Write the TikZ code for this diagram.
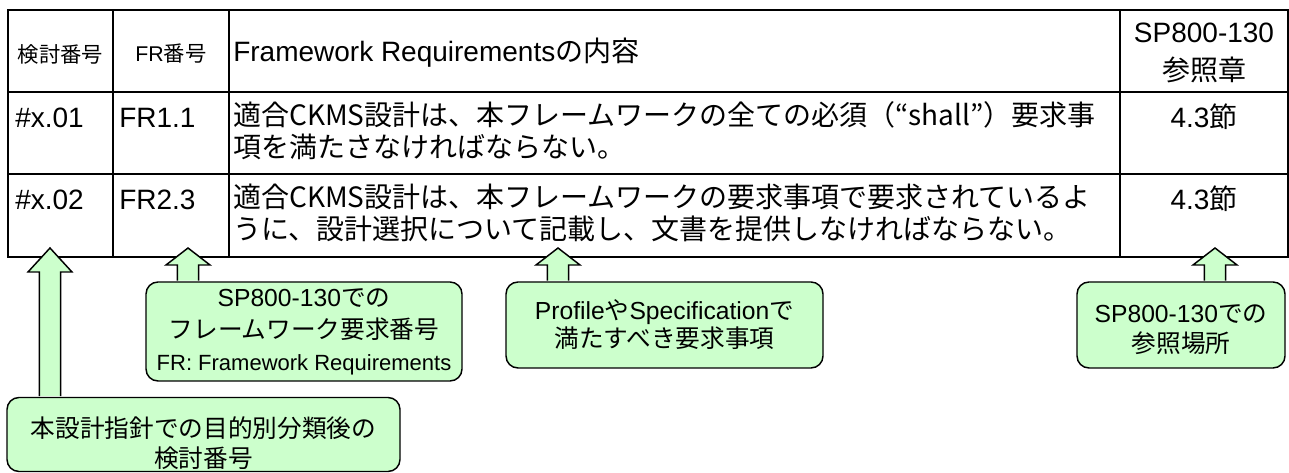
\documentclass[tikz,border=0pt]{standalone}
\usepackage{fontspec}
\setmainfont{Liberation Sans}
\newfontfamily\jp{Noto Sans CJK JP}
\usetikzlibrary{calc}
\definecolor{notegreen}{RGB}{204,255,204}
\tikzset{
  rule/.style={line width=1.5pt},
  cell/.style={inner sep=0pt, font=\fontsize{21}{24}\selectfont, anchor=base west},
  jcell/.style={cell, font=\jp\fontsize{21}{24}\selectfont, align=left},
  headsmall/.style={inner sep=0pt, font=\fontsize{16}{19}\selectfont},
  note/.style={draw, line width=1.1pt, fill=notegreen, rounded corners=9pt,
    align=center, inner sep=0pt, font=\fontsize{18.5}{22.5}\selectfont},
  blockarrow/.style={draw, line width=1.1pt, fill=notegreen, line join=miter}
}
% block arrow from the top of a note up to a tip
\newcommand\uparr[3]{%
  \filldraw[blockarrow] let \p1=(#2), \p2=(#1.north) in
    (\x1-8pt,\y2+0.5pt) -- (\x1-8pt,\y1-#3) -- (\x1-16.5pt,\y1-#3) -- (\x1,\y1)
    -- (\x1+16.5pt,\y1-#3) -- (\x1+8pt,\y1-#3) -- (\x1+8pt,\y2+0.5pt);}

\begin{document}
\begin{tikzpicture}[x=0.75pt,y=-0.75pt]
    \useasboundingbox (0,0) rectangle (1289,473);
    % Table frame
    \draw[rule] (8,10) rectangle (1288,257);
    \draw[rule] (8,92) -- (1288,92);
    \draw[rule] (8,174) -- (1288,174);
    \draw[rule] (113,10) -- (113,257);
    \draw[rule] (229,10) -- (229,257);
    \draw[rule] (1120,10) -- (1120,257);
    % Header
    \node[headsmall] (h1) at (60.5,54) {\jp 検討番号};
    \node[headsmall] (h2) at (171,54) {FR{\jp 番号}};
    \node[cell] (h3) at (233,62) {Framework Requirements{\jp の内容}};
    \node[cell, anchor=center, align=center, font=\fontsize{21}{28.5}\selectfont] (h4) at (1204,53)
        {SP800-130\\{\jp 参照章}};
    % Rows (base = last line)
    \node[cell] (r1a) at (15,128) {\#x.01};
    \node[cell] (r1b) at (119,128) {FR1.1};
    \node[jcell] (r1c) at (233,158) {適合CKMS設計は、本フレームワークの全ての必須（“shall”）要求事\\項を満たさなければならない。};
    \node[cell, anchor=base] (r1d) at (1204,128) {4.3{\jp 節}};
    \node[cell] (r2a) at (15,210) {\#x.02};
    \node[cell] (r2b) at (119,210) {FR2.3};
    \node[jcell] (r2c) at (233,240) {適合CKMS設計は、本フレームワークの要求事項で要求されているよ\\うに、設計選択について記載し、文書を提供しなければならない。};
    \node[cell, anchor=base] (r2d) at (1204,210) {4.3{\jp 節}};
    % Notes
    \node[note, minimum width=294.75pt, minimum height=55.5pt] (n1) at (203.5,434.5)
        {\rule{0pt}{28pt}{\jp 本設計指針での目的別分類後の}\\{\jp 検討番号}};
    \node[note, minimum width=237pt, minimum height=74.25pt, font=\fontsize{18.5}{24}\selectfont] (n2) at (304,331.5)
        {SP800-130{\jp での}\\{\jp フレームワーク要求番号}\\{\fontsize{16.5}{21}\selectfont FR: Framework Requirements}};
    \node[note, minimum width=237.75pt, minimum height=64.5pt, font=\fontsize{18.5}{21}\selectfont] (n3) at (664.5,325)
        {Profile{\jp や}Specification{\jp で}\\{\jp 満たすべき要求事項}};
    \node[note, minimum width=156pt, minimum height=64.5pt] (n4) at (1181,325)
        {\rule{0pt}{20pt}SP800-130{\jp での}\\{\jp 参照場所}};
    % Arrow tips
    \coordinate (t1) at (50,248);
    \coordinate (t2) at (188,248);
    \coordinate (t3) at (558,248);
    \coordinate (t4) at (1215,248);
    \uparr{n1}{t1}{18pt}
    \uparr{n2}{t2}{12.75pt}
    \uparr{n3}{t3}{12.75pt}
    \uparr{n4}{t4}{12.75pt}
\end{tikzpicture}
\end{document}
